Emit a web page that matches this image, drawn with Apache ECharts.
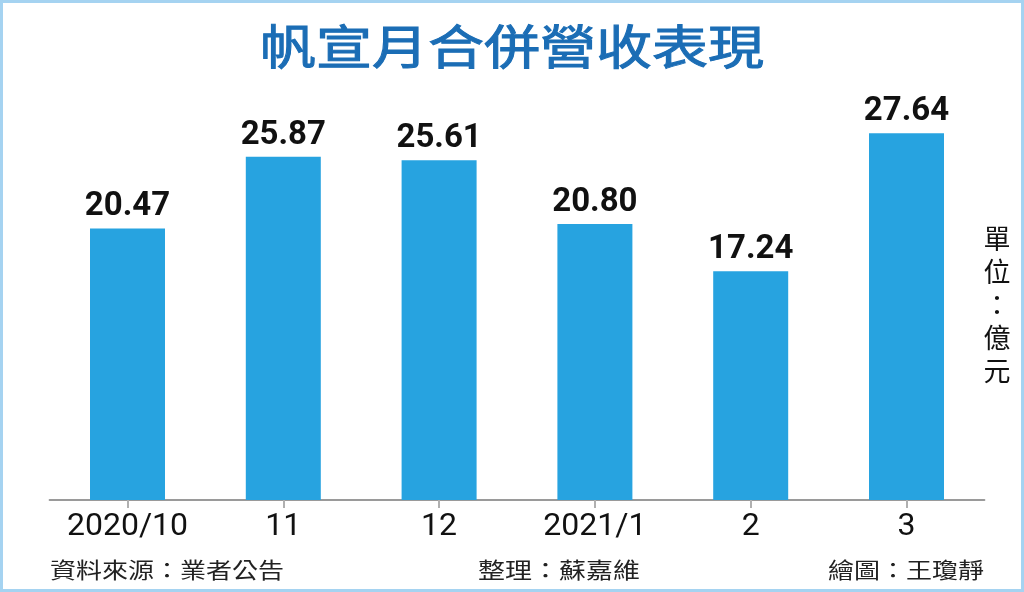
<!DOCTYPE html>
<html>
<head>
<meta charset="utf-8">
<script src="https://cdn.jsdelivr.net/npm/echarts@6/dist/echarts.min.js"></script>
<style>
html,body{margin:0;padding:0;background:#fff;}
#chart{width:1024px;height:592px;}
</style>
</head>
<body>
<div id="chart"></div>
<script>
const categories = ['2020/10', '11', '12', '2021/1', '2', '3'];
const revenue = [20.47, 25.87, 25.61, 20.80, 17.24, 27.64];
const titleText = '帆宣月合併營收表現';
const unitText = '單位：億元';
const sourceText = '資料來源：業者公告';
const editorText = '整理：蘇嘉維';
const designerText = '繪圖：王瓊靜';

const chart = echarts.init(document.getElementById('chart'));
const cjk = '"Noto Sans CJK TC", "Noto Sans", sans-serif';
const num = 'Roboto, "Liberation Sans", Arial, sans-serif';

chart.setOption({
  backgroundColor: '#ffffff',
  animation: false,
  grid: { left: 49.6, right: 39.6, top: 102, bottom: 92, containLabel: false },
  xAxis: {
    type: 'category',
    data: categories,
    axisLine: { show: true, lineStyle: { color: '#9a9a9a', width: 2 } },
    axisTick: { show: true, alignWithLabel: true, length: 8, lineStyle: { color: '#b0b0b0', width: 2 } },
    axisLabel: { interval: 0, hideOverlap: false, color: '#111', fontSize: 32, fontFamily: num, margin: 11 }
  },
  yAxis: { type: 'value', min: 0, max: 30, show: false, splitLine: { show: false } },
  series: [{
    type: 'bar',
    data: revenue,
    barWidth: 75,
    itemStyle: { color: '#27a3e0' },
    label: {
      show: true, position: 'top', distance: 5,
      color: '#111', fontSize: 33, fontWeight: 'bold', fontFamily: num,
      formatter: p => p.value.toFixed(2)
    }
  }],
  graphic: [
    { type: 'rect', shape: { x: 1.5, y: 1.5, width: 1021, height: 589 }, style: { fill: 'none', stroke: '#a5d3f1', lineWidth: 3 }, silent: true },
    { type: 'text', x: 512, y: 46, scaleY: 0.84, style: { text: titleText, fill: '#1b6db5', stroke: '#1b6db5', lineWidth: 1.2, font: 'normal 56px ' + cjk, textAlign: 'center', textVerticalAlign: 'middle' } },
    { type: 'text', x: 997, y: 305, style: { text: unitText.split('').join('\n'), fill: '#111', font: '27px ' + cjk, lineHeight: 33, textAlign: 'center', textVerticalAlign: 'middle' } },
    { type: 'text', x: 50, y: 570, scaleY: 0.82, style: { text: sourceText, fill: '#222', font: '26px ' + cjk, textAlign: 'left', textVerticalAlign: 'middle' } },
    { type: 'text', x: 478, y: 570, scaleY: 0.82, style: { text: editorText, fill: '#222', font: '27px ' + cjk, textAlign: 'left', textVerticalAlign: 'middle' } },
    { type: 'text', x: 984, y: 570, scaleY: 0.82, style: { text: designerText, fill: '#222', font: '26px ' + cjk, textAlign: 'right', textVerticalAlign: 'middle' } }
  ]
});
</script>
</body>
</html>
